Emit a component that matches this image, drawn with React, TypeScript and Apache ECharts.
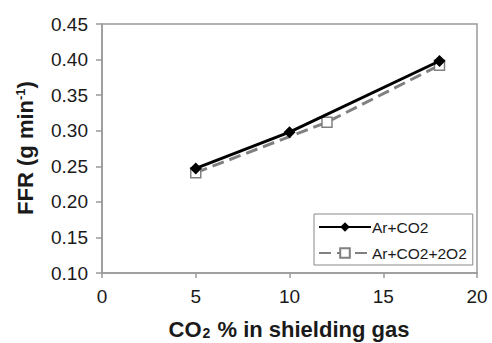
import React, { useEffect, useRef } from "react";
import * as echarts from "echarts";

const seriesNames = ["Ar+CO2", "Ar+CO2+2O2"];
const arCo2X = [5, 10, 18];
const arCo2Y = [0.247, 0.298, 0.398];
const arCo2O2X = [5, 12, 18];
const arCo2O2Y = [0.241, 0.312, 0.392];
const yTicks = [0.1, 0.15, 0.2, 0.25, 0.3, 0.35, 0.4, 0.45];
const xTicks = [0, 5, 10, 15, 20];

const FONT = "Liberation Sans, Arial, sans-serif";

export default function App() {
  const ref = useRef<HTMLDivElement>(null);
  useEffect(() => {
    document.body.style.margin = "0";
    if (!ref.current) return;
    const chart = echarts.init(ref.current, undefined, { renderer: "svg" });
    const toPairs = (xs: number[], ys: number[]) => xs.map((x, i) => [x, ys[i]]);
    chart.setOption({
      animation: false,
      backgroundColor: "#ffffff",
      textStyle: { fontFamily: FONT },
      grid: {
        left: 102,
        right: 15,
        top: 24,
        bottom: 70,
        show: true,
        borderColor: "#9a9a9a",
        borderWidth: 1.5,
      },
      xAxis: {
        type: "value",
        min: xTicks[0],
        max: xTicks[xTicks.length - 1],
        interval: 5,
        axisLine: { show: true, lineStyle: { color: "#9a9a9a", width: 1.5 } },
        axisTick: { show: true, inside: false, length: 5, lineStyle: { color: "#9a9a9a", width: 1.5 } },
        splitLine: { show: false },
        axisLabel: { fontSize: 19, color: "#1a1a1a", margin: 14, fontFamily: FONT },
      },
      yAxis: {
        type: "value",
        min: yTicks[0],
        max: yTicks[yTicks.length - 1],
        interval: 0.05,
        axisLine: { show: true, lineStyle: { color: "#9a9a9a", width: 1.5 } },
        axisTick: { show: true, length: 6, lineStyle: { color: "#9a9a9a", width: 1.5 } },
        splitLine: { show: false },
        axisLabel: {
          fontSize: 19,
          color: "#1a1a1a",
          margin: 14,
          fontFamily: FONT,
          formatter: (v: number) => v.toFixed(2),
        },
      },
      legend: {
        show: true,
        orient: "vertical",
        left: 314,
        top: 214,
        width: 158,
        borderColor: "#888888",
        borderWidth: 1,
        padding: [5, 6, 4, 4],
        itemWidth: 52,
        itemHeight: 12,
        itemGap: 10,
        textStyle: { fontSize: 15.5, color: "#1a1a1a", fontFamily: FONT, padding: [0, 0, 0, -4] },
        data: seriesNames,
      },
      graphic: [
        {
          type: "text",
          x: 25,
          y: 148,
          rotation: Math.PI / 2,
          style: {
            text: "{b|FFR (g min}{s|-1}{b|)}",
            align: "center",
            verticalAlign: "middle",
            rich: {
              b: { fontSize: 22, fontWeight: "bold", fontFamily: FONT, fill: "#1a1a1a" },
              s: { fontSize: 13, fontWeight: "bold", fontFamily: FONT, fill: "#1a1a1a", verticalAlign: "top" },
            },
          },
        },
        {
          type: "text",
          x: 289,
          y: 329,
          style: {
            text: "{b|CO}{s|2}{b| % in shielding gas}",
            align: "center",
            verticalAlign: "middle",
            rich: {
              b: { fontSize: 22, fontWeight: "bold", fontFamily: FONT, fill: "#1a1a1a" },
              s: { fontSize: 14, fontWeight: "bold", fontFamily: FONT, fill: "#1a1a1a", verticalAlign: "bottom", padding: [6, 1, 0, 1] },
            },
          },
        },
      ],
      series: [
        {
          name: seriesNames[0],
          type: "line",
          data: toPairs(arCo2X, arCo2Y),
          symbol: "diamond",
          symbolSize: 12,
          itemStyle: { color: "#000000" },
          lineStyle: { color: "#000000", width: 3 },
          z: 3,
        },
        {
          name: seriesNames[1],
          type: "line",
          data: toPairs(arCo2O2X, arCo2O2Y),
          symbol: "rect",
          symbolSize: 10,
          itemStyle: { color: "#ffffff", borderColor: "#808080", borderWidth: 1.5 },
          lineStyle: { color: "#808080", width: 3, type: [12, 6] },
          z: 2,
        },
      ],
    });
    return () => chart.dispose();
  }, []);
  return <div ref={ref} style={{ width: 492, height: 343 }} />;
}
